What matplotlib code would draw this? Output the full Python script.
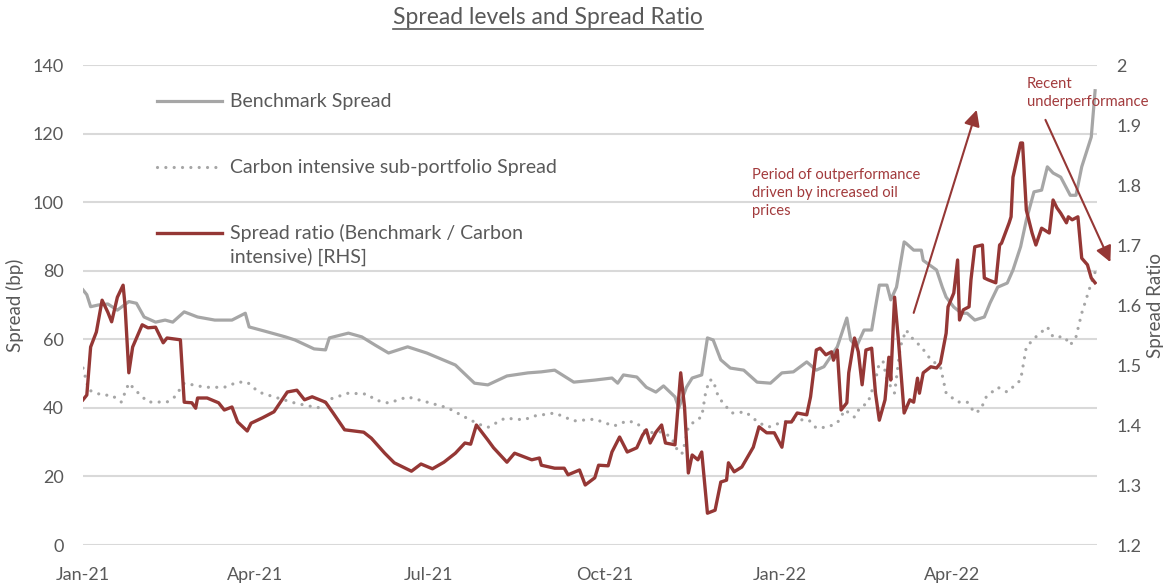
import matplotlib
matplotlib.use("Agg")
import matplotlib.pyplot as plt
from matplotlib.lines import Line2D
from matplotlib.ticker import FuncFormatter
import pandas as pd

# ---------------- data ----------------
bench_dates = [
    "2021-01-01", "2021-01-03", "2021-01-05", "2021-01-09", "2021-01-14", "2021-01-19", "2021-01-25",
    "2021-01-29", "2021-02-02", "2021-02-08", "2021-02-13", "2021-02-17", "2021-02-23", "2021-03-02",
    "2021-03-11", "2021-03-20", "2021-03-27", "2021-03-29", "2021-04-06", "2021-04-17", "2021-04-22",
    "2021-05-02", "2021-05-08", "2021-05-10", "2021-05-20", "2021-05-27", "2021-06-03", "2021-06-10",
    "2021-06-20", "2021-06-30", "2021-07-15", "2021-07-25", "2021-08-01", "2021-08-11", "2021-08-22",
    "2021-08-29", "2021-09-05", "2021-09-15", "2021-09-26", "2021-10-05", "2021-10-08", "2021-10-11",
    "2021-10-18", "2021-10-23", "2021-10-28", "2021-11-01", "2021-11-07", "2021-11-09", "2021-11-13",
    "2021-11-16", "2021-11-21", "2021-11-24", "2021-11-27", "2021-12-01", "2021-12-06", "2021-12-13",
    "2021-12-20", "2021-12-27", "2022-01-02", "2022-01-08", "2022-01-15", "2022-01-20", "2022-01-24",
    "2022-01-31", "2022-02-05", "2022-02-07", "2022-02-10", "2022-02-14", "2022-02-18", "2022-02-20",
    "2022-02-22", "2022-02-26", "2022-02-28", "2022-03-03", "2022-03-07", "2022-03-08", "2022-03-12",
    "2022-03-16", "2022-03-17", "2022-03-24", "2022-03-27", "2022-03-29", "2022-04-02", "2022-04-06",
    "2022-04-09", "2022-04-13", "2022-04-18", "2022-04-21", "2022-04-25", "2022-04-30", "2022-05-03",
    "2022-05-07", "2022-05-10", "2022-05-14", "2022-05-18", "2022-05-21", "2022-05-24", "2022-05-28",
    "2022-06-02", "2022-06-05", "2022-06-08", "2022-06-13", "2022-06-15",
]
bench_spread = [
    74.4, 73.0, 69.5, 70.0, 70.3, 68.5, 71.0,
    70.5, 66.5, 65.0, 65.6, 65.0, 68.0, 66.5,
    65.6, 65.6, 67.6, 63.6, 62.4, 60.7, 59.8,
    57.2, 56.9, 60.4, 61.8, 60.7, 58.3, 56.0,
    57.8, 56.0, 52.5, 47.2, 46.7, 49.3, 50.2,
    50.5, 51.0, 47.5, 48.1, 48.7, 47.2, 49.6,
    49.0, 46.0, 44.6, 46.4, 43.2, 40.0, 46.0,
    48.7, 49.6, 60.4, 59.8, 54.0, 51.6, 51.0,
    47.5, 47.2, 50.2, 50.5, 53.4, 51.0, 52.0,
    57.8, 66.2, 59.8, 57.8, 62.7, 62.7, 69.4,
    75.8, 75.8, 71.5, 75.2, 88.4, 88.0, 86.0,
    86.0, 83.0, 80.2, 75.2, 72.3, 69.4, 67.6,
    67.6, 65.6, 66.5, 70.6, 75.2, 76.4, 80.2,
    87.0, 94.8, 103.0, 103.5, 110.3, 108.5, 107.3,
    102.0, 102.0, 110.3, 119.0, 132.5,
]

carbon_dates = [
    "2021-01-01", "2021-01-04", "2021-01-11", "2021-01-16", "2021-01-21", "2021-01-25", "2021-01-30",
    "2021-02-04", "2021-02-14", "2021-02-18", "2021-02-23", "2021-03-06", "2021-03-16", "2021-03-23",
    "2021-03-28", "2021-04-03", "2021-04-11", "2021-04-22", "2021-05-04", "2021-05-09", "2021-05-20",
    "2021-05-30", "2021-06-03", "2021-06-10", "2021-06-20", "2021-06-30", "2021-07-11", "2021-07-20",
    "2021-07-27", "2021-08-01", "2021-08-10", "2021-08-20", "2021-08-25", "2021-09-05", "2021-09-15",
    "2021-09-26", "2021-10-06", "2021-10-13", "2021-10-18", "2021-10-23", "2021-10-31", "2021-11-05",
    "2021-11-09", "2021-11-11", "2021-11-14", "2021-11-18", "2021-11-21", "2021-11-23", "2021-11-25",
    "2021-11-27", "2021-11-29", "2021-12-02", "2021-12-07", "2021-12-14", "2021-12-21", "2021-12-26",
    "2022-01-01", "2022-01-07", "2022-01-16", "2022-01-20", "2022-01-26", "2022-01-31", "2022-02-04",
    "2022-02-09", "2022-02-12", "2022-02-16", "2022-02-20", "2022-02-22", "2022-02-24", "2022-02-26",
    "2022-03-02", "2022-03-05", "2022-03-08", "2022-03-12", "2022-03-16", "2022-03-21", "2022-03-26",
    "2022-03-29", "2022-04-04", "2022-04-09", "2022-04-13", "2022-04-16", "2022-04-19", "2022-04-25",
    "2022-04-30", "2022-05-07", "2022-05-10", "2022-05-15", "2022-05-21", "2022-05-24", "2022-05-30",
    "2022-06-02", "2022-06-05", "2022-06-08", "2022-06-13", "2022-06-15",
]
carbon_spread = [
    51.6, 45.2, 43.7, 43.7, 41.7, 47.2, 44.3,
    41.7, 41.7, 43.2, 47.2, 46.0, 46.0, 47.5,
    47.5, 44.6, 43.2, 41.4, 40.0, 42.3, 44.3,
    44.0, 42.3, 41.4, 43.2, 41.7, 40.0, 37.3,
    35.3, 34.3, 37.0, 36.5, 37.6, 38.5, 36.2,
    36.7, 34.7, 36.2, 35.6, 32.7, 33.0, 31.5,
    26.8, 26.8, 34.4, 36.5, 37.3, 44.3, 48.1,
    48.1, 44.3, 41.4, 38.5, 38.8, 35.6, 34.4,
    35.6, 36.5, 36.5, 34.1, 34.4, 35.6, 39.4,
    37.3, 40.2, 41.4, 48.1, 53.1, 53.5, 48.1,
    44.3, 57.8, 62.7, 59.8, 57.8, 54.0, 52.0,
    44.3, 41.7, 41.7, 38.5, 39.4, 43.2, 46.0,
    44.6, 48.1, 57.8, 60.7, 63.6, 60.7, 60.7,
    58.3, 60.7, 67.6, 76.4, 79.6,
]

ratio_dates = [
    "2021-01-01", "2021-01-03", "2021-01-05", "2021-01-08", "2021-01-11", "2021-01-14", "2021-01-16",
    "2021-01-19", "2021-01-22", "2021-01-23", "2021-01-25", "2021-01-27", "2021-02-01", "2021-02-04",
    "2021-02-08", "2021-02-12", "2021-02-14", "2021-02-21", "2021-02-23", "2021-02-27", "2021-03-01",
    "2021-03-02", "2021-03-07", "2021-03-13", "2021-03-16", "2021-03-20", "2021-03-23", "2021-03-28",
    "2021-03-30", "2021-04-05", "2021-04-11", "2021-04-18", "2021-04-23", "2021-04-27", "2021-05-01",
    "2021-05-08", "2021-05-12", "2021-05-18", "2021-05-28", "2021-06-01", "2021-06-08", "2021-06-13",
    "2021-06-22", "2021-06-27", "2021-07-03", "2021-07-09", "2021-07-15", "2021-07-20", "2021-07-23",
    "2021-07-26", "2021-08-01", "2021-08-04", "2021-08-11", "2021-08-15", "2021-08-24", "2021-08-28",
    "2021-08-29", "2021-09-05", "2021-09-10", "2021-09-12", "2021-09-18", "2021-09-21", "2021-09-26",
    "2021-09-28", "2021-10-03", "2021-10-05", "2021-10-09", "2021-10-13", "2021-10-18", "2021-10-21",
    "2021-10-23", "2021-10-25", "2021-10-28", "2021-10-31", "2021-11-02", "2021-11-07", "2021-11-10",
    "2021-11-12", "2021-11-14", "2021-11-16", "2021-11-19", "2021-11-21", "2021-11-24", "2021-11-28",
    "2021-12-01", "2021-12-04", "2021-12-05", "2021-12-08", "2021-12-12", "2021-12-18", "2021-12-21",
    "2021-12-25", "2021-12-29", "2022-01-02", "2022-01-04", "2022-01-07", "2022-01-10", "2022-01-15",
    "2022-01-17", "2022-01-20", "2022-01-22", "2022-01-25", "2022-01-28", "2022-01-29", "2022-01-31",
    "2022-02-02", "2022-02-05", "2022-02-06", "2022-02-09", "2022-02-11", "2022-02-13", "2022-02-15",
    "2022-02-18", "2022-02-20", "2022-02-22", "2022-02-25", "2022-02-27", "2022-02-28", "2022-03-02",
    "2022-03-04", "2022-03-07", "2022-03-10", "2022-03-12", "2022-03-14", "2022-03-15", "2022-03-17",
    "2022-03-21", "2022-03-24", "2022-03-26", "2022-03-29", "2022-03-30", "2022-04-02", "2022-04-04",
    "2022-04-05", "2022-04-07", "2022-04-10", "2022-04-11", "2022-04-13", "2022-04-17", "2022-04-18",
    "2022-04-20", "2022-04-24", "2022-04-26", "2022-04-27", "2022-04-29", "2022-05-01", "2022-05-02",
    "2022-05-03", "2022-05-07", "2022-05-08", "2022-05-10", "2022-05-13", "2022-05-15", "2022-05-18",
    "2022-05-22", "2022-05-24", "2022-05-26", "2022-05-28", "2022-05-31", "2022-06-01", "2022-06-03",
    "2022-06-06", "2022-06-08", "2022-06-11", "2022-06-13", "2022-06-15",
]
spread_ratio = [
    1.442, 1.450, 1.530, 1.555, 1.608, 1.588, 1.572,
    1.613, 1.633, 1.600, 1.487, 1.530, 1.567, 1.562,
    1.563, 1.537, 1.545, 1.542, 1.438, 1.437, 1.428,
    1.445, 1.445, 1.437, 1.425, 1.430, 1.405, 1.390,
    1.403, 1.412, 1.422, 1.455, 1.458, 1.442, 1.447,
    1.438, 1.420, 1.392, 1.388, 1.378, 1.353, 1.337,
    1.323, 1.335, 1.327, 1.338, 1.353, 1.370, 1.368,
    1.400, 1.375, 1.362, 1.338, 1.353, 1.342, 1.345,
    1.333, 1.328, 1.328, 1.317, 1.325, 1.300, 1.312,
    1.333, 1.332, 1.355, 1.380, 1.355, 1.362, 1.383,
    1.392, 1.370, 1.388, 1.400, 1.370, 1.367, 1.487,
    1.430, 1.320, 1.350, 1.342, 1.355, 1.253, 1.258,
    1.305, 1.308, 1.337, 1.322, 1.330, 1.363, 1.397,
    1.387, 1.387, 1.363, 1.405, 1.405, 1.420, 1.417,
    1.447, 1.525, 1.528, 1.517, 1.522, 1.508, 1.525,
    1.425, 1.437, 1.487, 1.545, 1.522, 1.467, 1.525,
    1.528, 1.453, 1.408, 1.442, 1.513, 1.475, 1.613,
    1.542, 1.420, 1.442, 1.438, 1.478, 1.453, 1.487,
    1.497, 1.495, 1.503, 1.553, 1.597, 1.620, 1.675,
    1.575, 1.592, 1.597, 1.642, 1.697, 1.700, 1.645,
    1.642, 1.637, 1.700, 1.703, 1.720, 1.737, 1.747,
    1.813, 1.870, 1.870, 1.758, 1.720, 1.700, 1.728,
    1.720, 1.775, 1.762, 1.753, 1.737, 1.747, 1.742,
    1.747, 1.678, 1.667, 1.645, 1.637,
]

left_ticks = [0, 20, 40, 60, 80, 100, 120, 140]
right_ticks = [1.2, 1.3, 1.4, 1.5, 1.6, 1.7, 1.8, 1.9, 2.0]
x_tick_dates = ["2021-01-01", "2021-04-01", "2021-07-01", "2021-10-01", "2022-01-01", "2022-04-01"]
x_tick_labels = ["Jan-21", "Apr-21", "Jul-21", "Oct-21", "Jan-22", "Apr-22"]

title_text = "Spread levels and Spread Ratio"
label_bench = "Benchmark Spread"
label_carbon = "Carbon intensive sub-portfolio Spread"
label_ratio_1 = "Spread ratio (Benchmark / Carbon"
label_ratio_2 = "intensive) [RHS]"
note_out = "Period of outperformance\ndriven by increased oil\nprices"
note_under = "Recent\nunderperformance"

# ---------------- styling ----------------
GRAY_LINE = "#a6a6a6"
TEXT_GRAY = "#595959"
GRID = "#d9d9d9"
RED = "#953735"
NOTE_RED = "#a23a3c"
plt.rcParams["font.family"] = ["Lato", "DejaVu Sans"]

fig = plt.figure(figsize=(11.71, 5.85), dpi=100)
ax = fig.add_axes([83 / 1171, 40 / 585, 1014 / 1171, 480 / 585])
ax2 = ax.twinx()

bd = pd.to_datetime(bench_dates)
cd = pd.to_datetime(carbon_dates)
rd = pd.to_datetime(ratio_dates)

DOT = (0, (0.01, 2.6))
ax.plot(bd, bench_spread, color=GRAY_LINE, lw=2.3, solid_joinstyle="round", zorder=3)
ax.plot(cd, carbon_spread, color=GRAY_LINE, lw=2.3, linestyle=DOT,
        dash_capstyle="round", zorder=3)
ax2.plot(rd, spread_ratio, color=RED, lw=2.4, solid_joinstyle="round", zorder=4)

ax.set_xlim(pd.Timestamp("2021-01-01"), pd.Timestamp("2022-06-16"))
ax.set_ylim(0, 140)
ax2.set_ylim(1.2, 2.0)

ax.set_yticks(left_ticks)
ax2.set_yticks(right_ticks)
ax2.yaxis.set_major_formatter(FuncFormatter(lambda v, p: f"{v:g}"))
ax.set_xticks(pd.to_datetime(x_tick_dates))
ax.set_xticklabels(x_tick_labels)

ax.grid(axis="y", color=GRID, lw=1.5)
ax.set_axisbelow(True)
for a in (ax, ax2):
    for s in a.spines.values():
        s.set_visible(False)
    a.tick_params(length=0, labelsize=13, colors=TEXT_GRAY)
ax.tick_params(axis="y", pad=14)
ax2.tick_params(axis="y", pad=14)
ax.tick_params(axis="x", pad=16)

ax.set_ylabel("Spread (bp)", fontsize=13.5, color=TEXT_GRAY, labelpad=6)
ax2.set_ylabel("Spread Ratio", fontsize=13.5, color=TEXT_GRAY, labelpad=4)

# legend drawn manually (handles + text) in axes fraction
lx0, lx1, tx = 0.073, 0.137, 0.145
rows = [0.925, 0.7875, 0.65]
LEG_FS = 14
ax.add_line(Line2D([lx0, lx1], [rows[0]] * 2, transform=ax.transAxes, color=GRAY_LINE, lw=2.3))
ax.add_line(Line2D([lx0, lx1], [rows[1]] * 2, transform=ax.transAxes, color=GRAY_LINE, lw=2.3,
                   linestyle=DOT, dash_capstyle="round"))
ax.add_line(Line2D([lx0, lx1], [rows[2]] * 2, transform=ax.transAxes, color=RED, lw=2.4))
ax.text(tx, rows[0], label_bench, transform=ax.transAxes, va="center", fontsize=LEG_FS, color=TEXT_GRAY)
ax.text(tx, rows[1], label_carbon, transform=ax.transAxes, va="center", fontsize=LEG_FS, color=TEXT_GRAY)
ax.text(tx, rows[2], label_ratio_1, transform=ax.transAxes, va="center", fontsize=LEG_FS, color=TEXT_GRAY)
ax.text(tx, rows[2] - 0.05, label_ratio_2, transform=ax.transAxes, va="center", fontsize=LEG_FS, color=TEXT_GRAY)

# annotations
ax.text(0.66, 0.785, note_out, transform=ax.transAxes, va="top", ha="left",
        fontsize=10.6, color=NOTE_RED, linespacing=1.35)
ax.text(0.931, 0.975, note_under, transform=ax.transAxes, va="top", ha="left",
        fontsize=10.7, color=NOTE_RED, linespacing=1.35, clip_on=False)
arrow = dict(arrowstyle="-|>", color=RED, lw=1.5, mutation_scale=24, shrinkA=0, shrinkB=0)
ax.annotate("", xy=(pd.Timestamp("2022-04-14"), 126.9), xytext=(pd.Timestamp("2022-03-12"), 67.7),
            arrowprops=arrow, annotation_clip=False, zorder=6)
ax.annotate("", xy=(pd.Timestamp("2022-06-23"), 82.5), xytext=(pd.Timestamp("2022-05-20"), 124.0),
            arrowprops=arrow, annotation_clip=False, zorder=6)

# underlined title
title = fig.text(548 / 1171, 1 - 18 / 585, title_text, ha="center", va="center",
                 fontsize=16.5, color=TEXT_GRAY)
fig.canvas.draw()
bb = title.get_window_extent(fig.canvas.get_renderer())
W, H = fig.bbox.width, fig.bbox.height
uy = (bb.y0 - 0.5) / H
fig.add_artist(Line2D([bb.x0 / W, bb.x1 / W], [uy, uy], transform=fig.transFigure,
                      color=TEXT_GRAY, lw=1.2))

fig.savefig("out.png", dpi=100)
